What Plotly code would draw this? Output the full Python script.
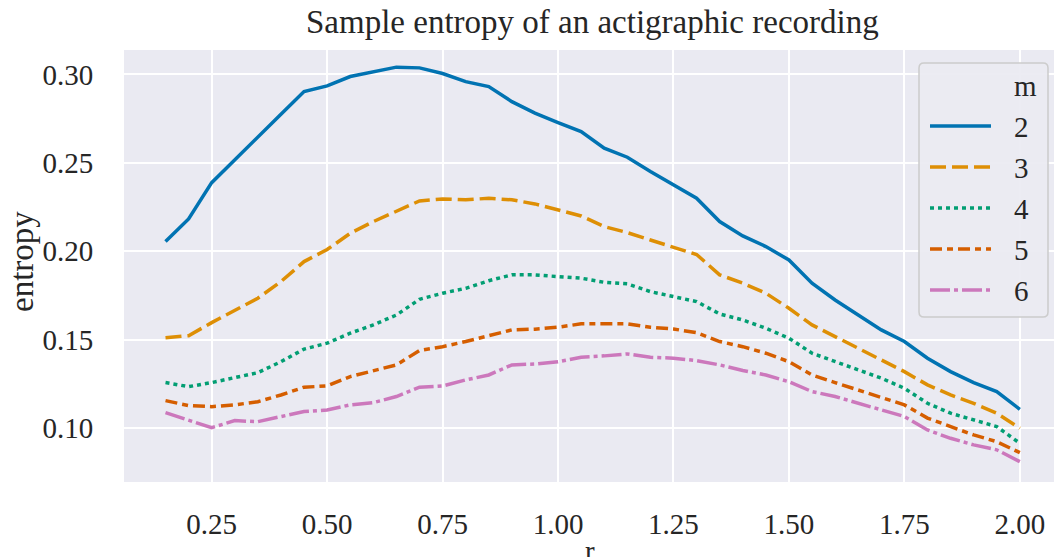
import plotly.graph_objects as go

# ---------------- data ----------------
r = [0.15, 0.20, 0.25, 0.30, 0.35, 0.40, 0.45, 0.50, 0.55, 0.60,
     0.65, 0.70, 0.75, 0.80, 0.85, 0.90, 0.95, 1.00, 1.05, 1.10,
     1.15, 1.20, 1.25, 1.30, 1.35, 1.40, 1.45, 1.50, 1.55, 1.60,
     1.65, 1.70, 1.75, 1.80, 1.85, 1.90, 1.95, 2.00]

m2 = [0.2055, 0.2183, 0.2388, 0.2515, 0.2645, 0.2775, 0.2903, 0.2935, 0.2988, 0.3016,
      0.3041, 0.3037, 0.3005, 0.2959, 0.2931, 0.2846, 0.2781, 0.2728, 0.2677, 0.2583,
      0.2532, 0.2451, 0.2375, 0.2300, 0.2168, 0.2087, 0.2027, 0.1951, 0.1820, 0.1725,
      0.1640, 0.1556, 0.1490, 0.1396, 0.1320, 0.1258, 0.1207, 0.1107]
m3 = [0.1512, 0.1523, 0.1597, 0.1665, 0.1735, 0.1829, 0.1942, 0.2010, 0.2102, 0.2168,
      0.2224, 0.2285, 0.2296, 0.2291, 0.2300, 0.2291, 0.2268, 0.2234, 0.2200, 0.2140,
      0.2106, 0.2064, 0.2023, 0.1982, 0.1867, 0.1820, 0.1763, 0.1678, 0.1584, 0.1518,
      0.1452, 0.1386, 0.1320, 0.1245, 0.1188, 0.1141, 0.1085, 0.1000]
m4 = [0.1258, 0.1235, 0.1258, 0.1288, 0.1314, 0.1376, 0.1447, 0.1481, 0.1537, 0.1584,
      0.1640, 0.1729, 0.1763, 0.1791, 0.1834, 0.1867, 0.1867, 0.1857, 0.1848, 0.1825,
      0.1816, 0.1772, 0.1744, 0.1716, 0.1646, 0.1612, 0.1565, 0.1509, 0.1424, 0.1376,
      0.1330, 0.1283, 0.1226, 0.1141, 0.1085, 0.1047, 0.1009, 0.0915]
m5 = [0.1156, 0.1128, 0.1122, 0.1132, 0.1150, 0.1188, 0.1232, 0.1239, 0.1292, 0.1326,
      0.1358, 0.1439, 0.1461, 0.1490, 0.1522, 0.1556, 0.1560, 0.1571, 0.1590, 0.1588,
      0.1590, 0.1571, 0.1561, 0.1540, 0.1490, 0.1461, 0.1424, 0.1376, 0.1301, 0.1258,
      0.1216, 0.1173, 0.1132, 0.1057, 0.1009, 0.0962, 0.0924, 0.0862]
m6 = [0.1088, 0.1043, 0.1003, 0.1043, 0.1037, 0.1066, 0.1094, 0.1103, 0.1132, 0.1145,
      0.1179, 0.1232, 0.1239, 0.1273, 0.1301, 0.1358, 0.1363, 0.1376, 0.1401, 0.1409,
      0.1420, 0.1401, 0.1396, 0.1382, 0.1358, 0.1326, 0.1301, 0.1263, 0.1207, 0.1179,
      0.1141, 0.1103, 0.1066, 0.0990, 0.0943, 0.0906, 0.0878, 0.0811]

m_labels = ["2", "3", "4", "5", "6"]
series = [m2, m3, m4, m5, m6]

x_ticks = [0.25, 0.50, 0.75, 1.00, 1.25, 1.50, 1.75, 2.00]
y_ticks = [0.10, 0.15, 0.20, 0.25, 0.30]

title_text = "Sample entropy of an actigraphic recording"
x_title = "r"
y_title = "entropy"
legend_title = "m"

# ---------------- style ----------------
colors = ["#0173B2", "#DE8F05", "#029E73", "#D55E00", "#CC78BC"]
dashes = ["solid", "16px,6px", "4px,4px", "12px,5px,6px,5px", "20px,4px,4px,4px"]
LW = 3.5
FONT = "Liberation Serif"
TXT = "#262626"
FS = 29
FS_T = 33

W, H = 1054, 557
ML, MR, MT, MB = 124, 0, 50, 75
PW, PH = W - ML - MR, H - MT - MB


def px(xp):
    return (xp - ML) / PW


def py(yp):
    return (H - MB - yp) / PH


fig = go.Figure()
for lab, vals, c, d in zip(m_labels, series, colors, dashes):
    assert len(vals) == len(r)
    fig.add_trace(go.Scatter(x=r, y=vals, mode="lines", name=lab,
                             line=dict(color=c, width=LW, dash=d),
                             showlegend=False))

# manual legend (matplotlib-like box)
bx0, bx1, by0, by1 = px(919), px(1048), py(317), py(63)
rx, ry = 5 / PW, 5 / PH
path = (f"M {bx0+rx},{by0} L {bx1-rx},{by0} Q {bx1},{by0} {bx1},{by0+ry} "
        f"L {bx1},{by1-ry} Q {bx1},{by1} {bx1-rx},{by1} L {bx0+rx},{by1} "
        f"Q {bx0},{by1} {bx0},{by1-ry} L {bx0},{by0+ry} Q {bx0},{by0} {bx0+rx},{by0} Z")
shapes = [dict(type="path", path=path, xref="paper", yref="paper",
               fillcolor="rgba(234,234,242,0.92)",
               line=dict(color="#CCCCCC", width=1.5), layer="above")]
annotations = []
row_y = [126, 167, 208, 249, 290]
for lab, c, d, yy in zip(m_labels, colors, dashes, row_y):
    shapes.append(dict(type="line", xref="paper", yref="paper",
                       x0=px(930), x1=px(991), y0=py(yy), y1=py(yy),
                       line=dict(color=c, width=LW, dash=d), layer="above"))
    annotations.append(dict(text=lab, xref="paper", yref="paper",
                            x=px(1012), y=py(yy + 1), xanchor="left", yanchor="middle",
                            showarrow=False, font=dict(family=FONT, size=FS, color=TXT)))
annotations.append(dict(text=legend_title, xref="paper", yref="paper",
                        x=px(1012), y=py(86), xanchor="left", yanchor="middle",
                        showarrow=False, font=dict(family=FONT, size=FS, color=TXT)))

# titles
annotations.append(dict(text=title_text, xref="paper", yref="paper",
                        x=px(592), y=py(22), xanchor="center", yanchor="middle",
                        showarrow=False, font=dict(family=FONT, size=FS_T, color=TXT)))
annotations.append(dict(text=y_title, xref="paper", yref="paper", textangle=-90,
                        x=px(22), y=py(262), xanchor="center", yanchor="middle",
                        showarrow=False, font=dict(family=FONT, size=FS_T, color=TXT)))
annotations.append(dict(text=x_title, xref="paper", yref="paper",
                        x=px(590), y=py(533), xanchor="center", yanchor="top",
                        showarrow=False, font=dict(family=FONT, size=FS, color=TXT)))

fig.update_layout(
    width=W, height=H,
    margin=dict(l=ML, r=MR, t=MT, b=MB, pad=0),
    paper_bgcolor="white", plot_bgcolor="#EAEAF2",
    font=dict(family=FONT, size=FS, color=TXT),
    showlegend=False,
    shapes=shapes, annotations=annotations,
)
fig.update_xaxes(range=[0.0601, 2.0740], tickvals=x_ticks, tickformat=".2f",
                 showgrid=True, gridcolor="white", gridwidth=2.2,
                 zeroline=False, showline=False,
                 ticks="outside", ticklen=16, tickcolor="rgba(0,0,0,0)",
                 tickfont=dict(family=FONT, size=FS, color=TXT))
fig.update_yaxes(range=[0.0696, 0.3138], tickvals=y_ticks, tickformat=".2f",
                 showgrid=True, gridcolor="white", gridwidth=2.2,
                 zeroline=False, showline=False,
                 ticks="outside", ticklen=24, tickcolor="rgba(0,0,0,0)",
                 tickfont=dict(family=FONT, size=FS, color=TXT))

fig.write_html("out.html")
